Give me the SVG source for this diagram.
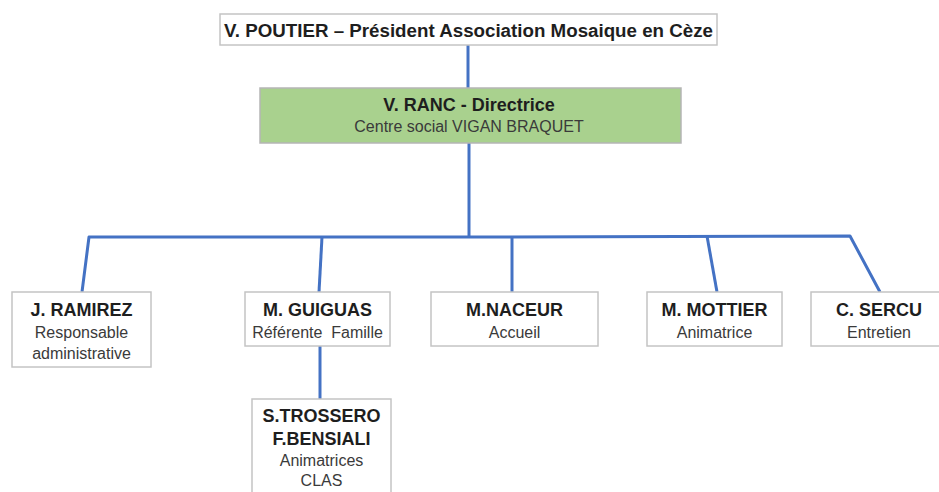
<svg xmlns="http://www.w3.org/2000/svg" width="939" height="492" viewBox="0 0 939 492">
<style>
.box{fill:#ffffff;stroke:#c4c4c4;stroke-width:1.5}
.green{fill:#a9d18e;stroke:#b5b5b5;stroke-width:1.5}
.b{font-family:"Liberation Sans",Arial,sans-serif;font-weight:bold;font-size:18px;fill:#1e1e1e;text-anchor:middle}
.r{font-family:"Liberation Sans",Arial,sans-serif;font-size:16px;fill:#3a3a3a;text-anchor:middle}
.c{fill:none;stroke:#4472c4;stroke-width:3;stroke-linejoin:round}
</style>
<rect width="939" height="492" fill="#ffffff"/>
<g id="connectors">
<path class="c" d="M468 45 V88"/>
<path class="c" d="M469 143 V236"/>
<path class="c" d="M82 292 L89 237 H469 L850 236 L880 292"/>
<path class="c" d="M319 292 L322 237"/>
<path class="c" d="M512 292 V237"/>
<path class="c" d="M717 292 L707 236"/>
<path class="c" d="M320 346 V399"/>
</g>
<g id="n-poutier">
<rect class="box" x="220" y="14" width="497" height="31"/>
<text class="b" x="468.5" y="37" textLength="489" lengthAdjust="spacingAndGlyphs">V. POUTIER – Président Association Mosaique en Cèze</text>
</g>
<g id="n-ranc">
<rect class="green" x="260" y="88" width="421" height="55"/>
<text class="b" x="469" y="111">V. RANC - Directrice</text>
<text class="r" x="469" y="132">Centre social VIGAN BRAQUET</text>
</g>
<g id="n-ramirez">
<rect class="box" x="12" y="292" width="139" height="75"/>
<text class="b" x="81.5" y="316">J. RAMIREZ</text>
<text class="r" x="81.5" y="338">Responsable</text>
<text class="r" x="81.5" y="359">administrative</text>
</g>
<g id="n-guiguas">
<rect class="box" x="245" y="292" width="145" height="54"/>
<text class="b" x="317.5" y="316">M. GUIGUAS</text>
<text class="r" x="317.5" y="338" xml:space="preserve">Référente  Famille</text>
</g>
<g id="n-naceur">
<rect class="box" x="431" y="292" width="167" height="54"/>
<text class="b" x="514.5" y="316">M.NACEUR</text>
<text class="r" x="514.5" y="338">Accueil</text>
</g>
<g id="n-mottier">
<rect class="box" x="647" y="292" width="135" height="54"/>
<text class="b" x="714.5" y="316">M. MOTTIER</text>
<text class="r" x="714.5" y="338">Animatrice</text>
</g>
<g id="n-sercu">
<rect class="box" x="811" y="292" width="136" height="54"/>
<text class="b" x="879" y="316">C. SERCU</text>
<text class="r" x="879" y="338">Entretien</text>
</g>
<g id="n-trossero">
<rect class="box" x="252" y="399" width="139" height="100"/>
<text class="b" x="321.5" y="422">S.TROSSERO</text>
<text class="b" x="321.5" y="445">F.BENSIALI</text>
<text class="r" x="321.5" y="466">Animatrices</text>
<text class="r" x="321.5" y="486">CLAS</text>
</g>
</svg>
